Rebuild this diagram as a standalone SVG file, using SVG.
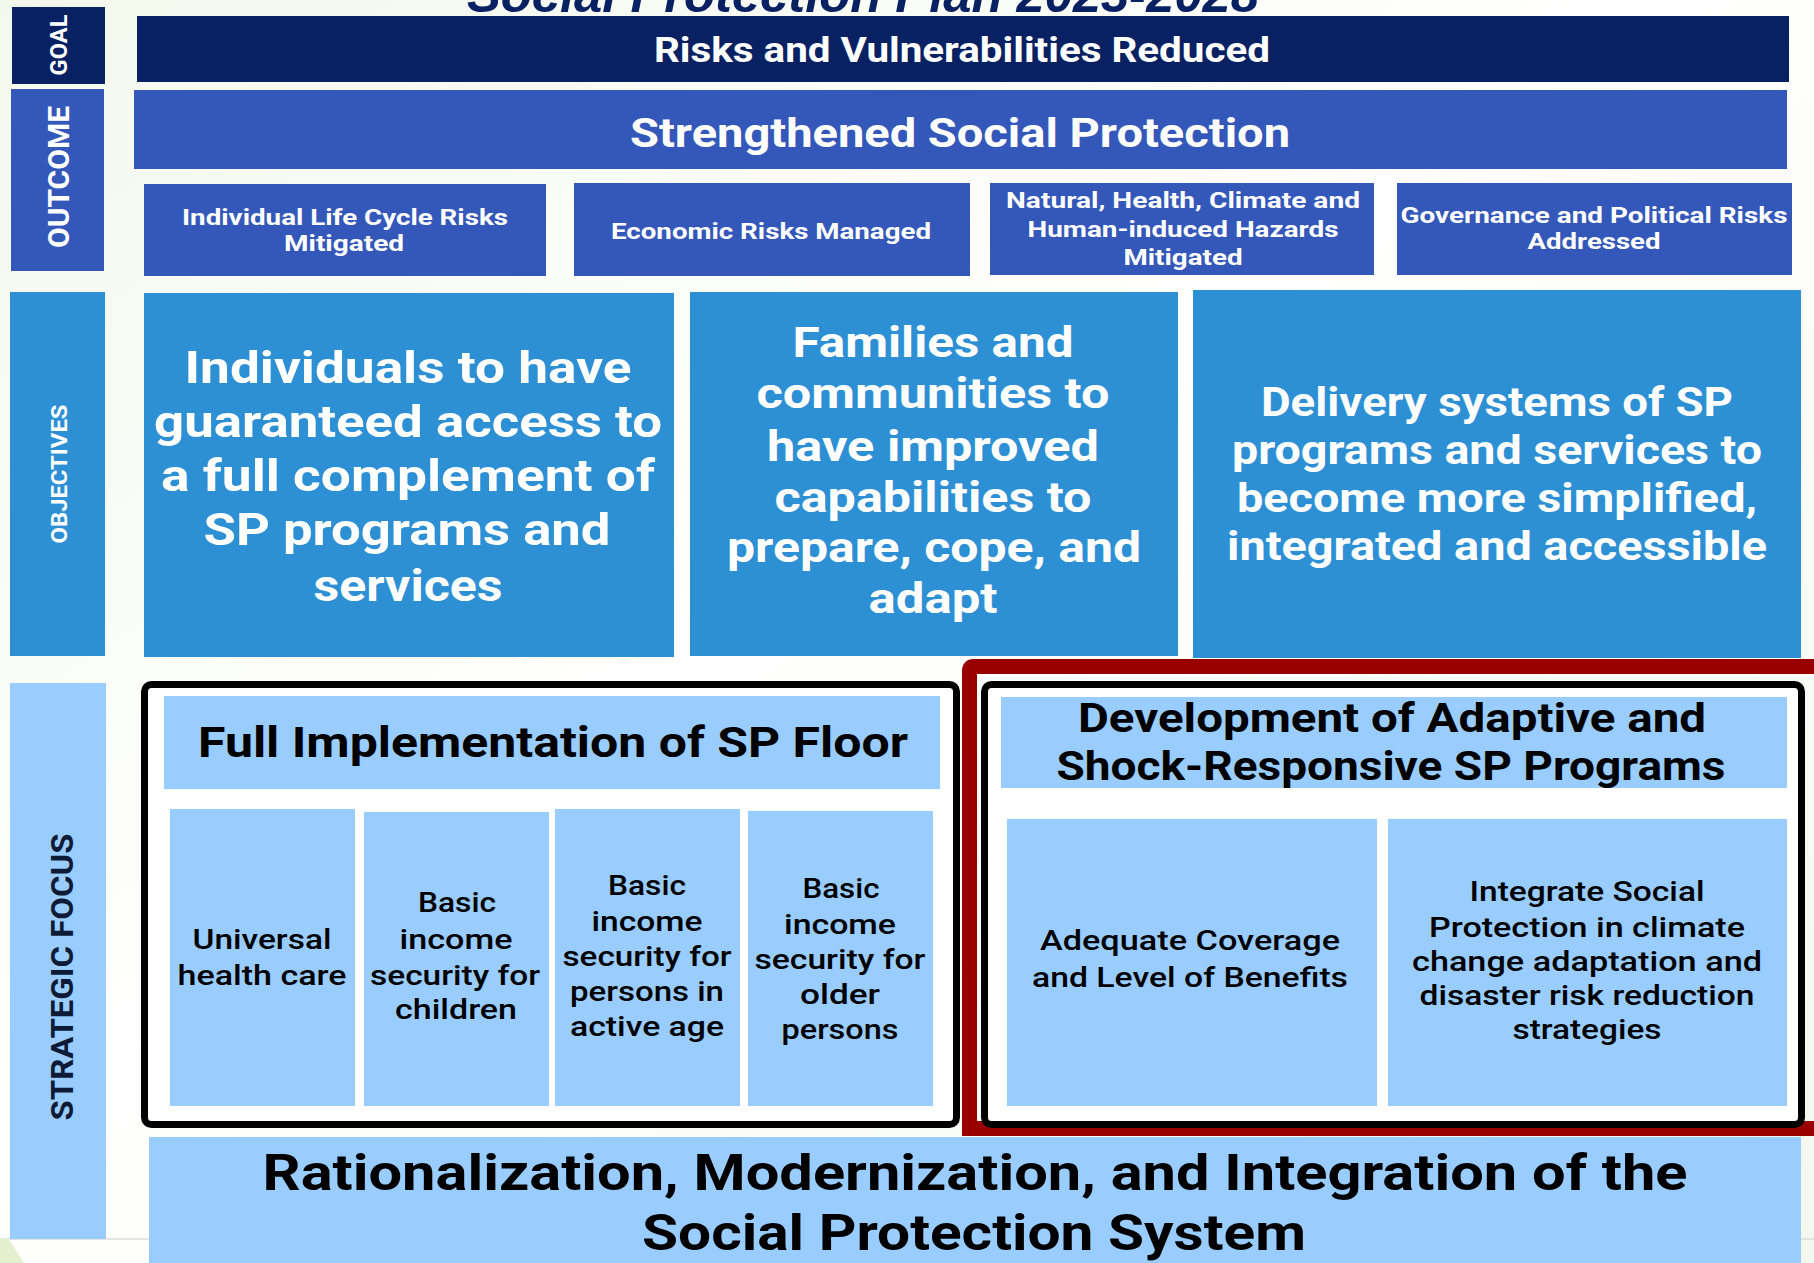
<svg xmlns="http://www.w3.org/2000/svg" width="1814" height="1263" viewBox="0 0 1814 1263">
<defs>
<linearGradient id="bg" x1="0" y1="0" x2="1" y2="1">
<stop offset="0" stop-color="#f3f8ec"/>
<stop offset="0.45" stop-color="#ffffff"/>
<stop offset="1" stop-color="#f4f7ee"/>
</linearGradient>
<style>
text { font-family: Roboto, 'Liberation Sans', sans-serif; text-anchor: middle; }
.b { font-weight: 700; }
.m { font-weight: 500; }
.w { fill: #ffffff; }
.k { fill: #000000; }
.navy { fill: #082163; }
.out { fill: #3457ba; }
.obj { fill: #2d90d5; }
.lt { fill: #99ccff; }
.frame { fill: #ffffff; stroke: #000000; stroke-width: 7; }
</style>
</defs>
<rect x="0" y="0" width="1814" height="1263" fill="url(#bg)"/>
<line x1="0" y1="1239" x2="1814" y2="1239" stroke="#dcdcdc" stroke-width="1.5"/>
<polygon points="0,1238 8,1238 24,1263 0,1263" fill="#e2f0d0"/>

<text id="title" x="863" y="12" class="b navy" font-style="italic" font-size="50" textLength="792" lengthAdjust="spacingAndGlyphs" style="font-family:'Liberation Sans', Arial, sans-serif">Social Protection Plan 2023-2028</text>

<g id="goal-label">
<rect x="12" y="7" width="93" height="77" class="navy"/>
<text transform="translate(67,45) rotate(-90)" class="b w" font-size="23" textLength="61" lengthAdjust="spacingAndGlyphs">GOAL</text>
</g>
<g id="goal">
<rect x="137" y="16" width="1652" height="66" class="navy"/>
<text x="962" y="62" class="b w" font-size="35" textLength="616" lengthAdjust="spacingAndGlyphs">Risks and Vulnerabilities Reduced</text>
</g>

<g id="outcome-label">
<rect x="11" y="89" width="93" height="182" class="out"/>
<text transform="translate(69,177) rotate(-90)" class="b w" font-size="30" textLength="142" lengthAdjust="spacingAndGlyphs">OUTCOME</text>
</g>
<g id="outcome">
<rect x="134" y="90" width="1653" height="79" class="out"/>
<text x="960" y="147" class="b w" font-size="40" textLength="660" lengthAdjust="spacingAndGlyphs">Strengthened Social Protection</text>
</g>
<g id="outcome-1">
<rect x="144" y="184" width="402" height="92" class="out"/>
<text x="345" y="225" class="b w" font-size="22" textLength="326" lengthAdjust="spacingAndGlyphs">Individual Life Cycle Risks</text>
<text x="344" y="251" class="b w" font-size="22" textLength="120" lengthAdjust="spacingAndGlyphs">Mitigated</text>
</g>
<g id="outcome-2">
<rect x="574" y="183" width="396" height="93" class="out"/>
<text x="771" y="239" class="b w" font-size="22" textLength="320" lengthAdjust="spacingAndGlyphs">Economic Risks Managed</text>
</g>
<g id="outcome-3">
<rect x="990" y="183" width="384" height="92" class="out"/>
<text x="1183" y="208" class="b w" font-size="22" textLength="354" lengthAdjust="spacingAndGlyphs">Natural, Health, Climate and</text>
<text x="1183" y="237" class="b w" font-size="22" textLength="311" lengthAdjust="spacingAndGlyphs">Human-induced Hazards</text>
<text x="1183" y="265" class="b w" font-size="22" textLength="119" lengthAdjust="spacingAndGlyphs">Mitigated</text>
</g>
<g id="outcome-4">
<rect x="1397" y="183" width="395" height="92" class="out"/>
<text x="1594" y="223" class="b w" font-size="22" textLength="387" lengthAdjust="spacingAndGlyphs">Governance and Political Risks</text>
<text x="1594" y="249" class="b w" font-size="22" textLength="133" lengthAdjust="spacingAndGlyphs">Addressed</text>
</g>

<g id="objectives-label">
<rect x="10" y="292" width="95" height="364" class="obj"/>
<text transform="translate(67,474) rotate(-90)" class="b w" font-size="22" textLength="139" lengthAdjust="spacingAndGlyphs">OBJECTIVES</text>
</g>
<g id="objective-1">
<rect x="144" y="293" width="530" height="364" class="obj"/>
<text x="408" y="383" class="b w" font-size="45" textLength="447" lengthAdjust="spacingAndGlyphs">Individuals to have</text>
<text x="408" y="437" class="b w" font-size="45" textLength="508" lengthAdjust="spacingAndGlyphs">guaranteed access to</text>
<text x="408" y="491" class="b w" font-size="45" textLength="494" lengthAdjust="spacingAndGlyphs">a full complement of</text>
<text x="407" y="545" class="b w" font-size="45" textLength="407" lengthAdjust="spacingAndGlyphs">SP programs and</text>
<text x="408" y="601" class="b w" font-size="45" textLength="189" lengthAdjust="spacingAndGlyphs">services</text>
</g>
<g id="objective-2">
<rect x="690" y="292" width="488" height="364" class="obj"/>
<text x="933" y="357" class="b w" font-size="42" textLength="281" lengthAdjust="spacingAndGlyphs">Families and</text>
<text x="933" y="408" class="b w" font-size="42" textLength="353" lengthAdjust="spacingAndGlyphs">communities to</text>
<text x="933" y="461" class="b w" font-size="42" textLength="332" lengthAdjust="spacingAndGlyphs">have improved</text>
<text x="933" y="512" class="b w" font-size="42" textLength="317" lengthAdjust="spacingAndGlyphs">capabilities to</text>
<text x="934" y="562" class="b w" font-size="42" textLength="414" lengthAdjust="spacingAndGlyphs">prepare, cope, and</text>
<text x="933" y="613" class="b w" font-size="42" textLength="129" lengthAdjust="spacingAndGlyphs">adapt</text>
</g>
<g id="objective-3">
<rect x="1193" y="290" width="608" height="368" class="obj"/>
<text x="1497" y="416" class="b w" font-size="40" textLength="472" lengthAdjust="spacingAndGlyphs">Delivery systems of SP</text>
<text x="1497" y="464" class="b w" font-size="40" textLength="530" lengthAdjust="spacingAndGlyphs">programs and services to</text>
<text x="1497" y="512" class="b w" font-size="40" textLength="520" lengthAdjust="spacingAndGlyphs">become more simplified,</text>
<text x="1497" y="560" class="b w" font-size="40" textLength="540" lengthAdjust="spacingAndGlyphs">integrated and accessible</text>
</g>

<g id="strategic-label">
<rect x="10" y="683" width="96" height="556" class="lt"/>
<text transform="translate(73,977) rotate(-90)" class="b" fill="#0d1b36" font-size="31" textLength="287" lengthAdjust="spacingAndGlyphs">STRATEGIC FOCUS</text>
</g>

<g id="connectors"></g>

<g id="sp-floor">
<rect x="144.5" y="684.5" width="812" height="440" rx="7" class="frame"/>
<rect x="164" y="696" width="776" height="93" class="lt"/>
<text x="553" y="757" class="b k" font-size="43" textLength="710" lengthAdjust="spacingAndGlyphs">Full Implementation of SP Floor</text>
</g>
<g id="cell-health">
<rect x="170" y="809" width="185" height="297" class="lt"/>
<text x="262" y="949" class="m k" font-size="28" textLength="139" lengthAdjust="spacingAndGlyphs">Universal</text>
<text x="262" y="985" class="m k" font-size="28" textLength="169" lengthAdjust="spacingAndGlyphs">health care</text>
</g>
<g id="cell-children">
<rect x="364" y="812" width="185" height="294" class="lt"/>
<text x="457" y="912" class="m k" font-size="28" textLength="78" lengthAdjust="spacingAndGlyphs">Basic</text>
<text x="456" y="949" class="m k" font-size="28" textLength="113" lengthAdjust="spacingAndGlyphs">income</text>
<text x="455" y="985" class="m k" font-size="28" textLength="170" lengthAdjust="spacingAndGlyphs">security for</text>
<text x="456" y="1019" class="m k" font-size="28" textLength="122" lengthAdjust="spacingAndGlyphs">children</text>
</g>
<g id="cell-active">
<rect x="555" y="809" width="185" height="297" class="lt"/>
<text x="647" y="895" class="m k" font-size="28" textLength="78" lengthAdjust="spacingAndGlyphs">Basic</text>
<text x="647" y="931" class="m k" font-size="28" textLength="111" lengthAdjust="spacingAndGlyphs">income</text>
<text x="647" y="966" class="m k" font-size="28" textLength="169" lengthAdjust="spacingAndGlyphs">security for</text>
<text x="647" y="1001" class="m k" font-size="28" textLength="154" lengthAdjust="spacingAndGlyphs">persons in</text>
<text x="647" y="1036" class="m k" font-size="28" textLength="154" lengthAdjust="spacingAndGlyphs">active age</text>
</g>
<g id="cell-older">
<rect x="748" y="811" width="185" height="295" class="lt"/>
<text x="841" y="898" class="m k" font-size="28" textLength="77" lengthAdjust="spacingAndGlyphs">Basic</text>
<text x="840" y="934" class="m k" font-size="28" textLength="112" lengthAdjust="spacingAndGlyphs">income</text>
<text x="840" y="969" class="m k" font-size="28" textLength="171" lengthAdjust="spacingAndGlyphs">security for</text>
<text x="840" y="1004" class="m k" font-size="28" textLength="80" lengthAdjust="spacingAndGlyphs">older</text>
<text x="840" y="1039" class="m k" font-size="28" textLength="117" lengthAdjust="spacingAndGlyphs">persons</text>
</g>

<g id="adaptive-highlight">
<path d="M1830,666.5 H973.5 Q969.5,666.5 969.5,670.5 V1128.5 H1830" fill="none" stroke="#990000" stroke-width="15"/>
</g>
<g id="adaptive">
<rect x="984.5" y="684.5" width="817" height="440" rx="7" class="frame"/>
<rect x="1001" y="697" width="786" height="91" class="lt"/>
<text x="1392" y="732" class="b k" font-size="40" textLength="628" lengthAdjust="spacingAndGlyphs">Development of Adaptive and</text>
<text x="1391" y="780" class="b k" font-size="40" textLength="669" lengthAdjust="spacingAndGlyphs">Shock-Responsive SP Programs</text>
</g>
<g id="cell-coverage">
<rect x="1007" y="819" width="370" height="287" class="lt"/>
<text x="1190" y="950" class="m k" font-size="28" textLength="300" lengthAdjust="spacingAndGlyphs">Adequate Coverage</text>
<text x="1190" y="987" class="m k" font-size="28" textLength="316" lengthAdjust="spacingAndGlyphs">and Level of Benefits</text>
</g>
<g id="cell-climate">
<rect x="1388" y="819" width="399" height="287" class="lt"/>
<text x="1587" y="901" class="m k" font-size="28" textLength="235" lengthAdjust="spacingAndGlyphs">Integrate Social</text>
<text x="1587" y="937" class="m k" font-size="28" textLength="316" lengthAdjust="spacingAndGlyphs">Protection in climate</text>
<text x="1587" y="971" class="m k" font-size="28" textLength="350" lengthAdjust="spacingAndGlyphs">change adaptation and</text>
<text x="1587" y="1005" class="m k" font-size="28" textLength="335" lengthAdjust="spacingAndGlyphs">disaster risk reduction</text>
<text x="1587" y="1039" class="m k" font-size="28" textLength="149" lengthAdjust="spacingAndGlyphs">strategies</text>
</g>

<g id="system">
<rect x="149" y="1137" width="1652" height="130" class="lt"/>
<text x="975" y="1190" class="b k" font-size="50" textLength="1425" lengthAdjust="spacingAndGlyphs">Rationalization, Modernization, and Integration of the</text>
<text x="974" y="1250" class="b k" font-size="50" textLength="664" lengthAdjust="spacingAndGlyphs">Social Protection System</text>
</g>
</svg>
